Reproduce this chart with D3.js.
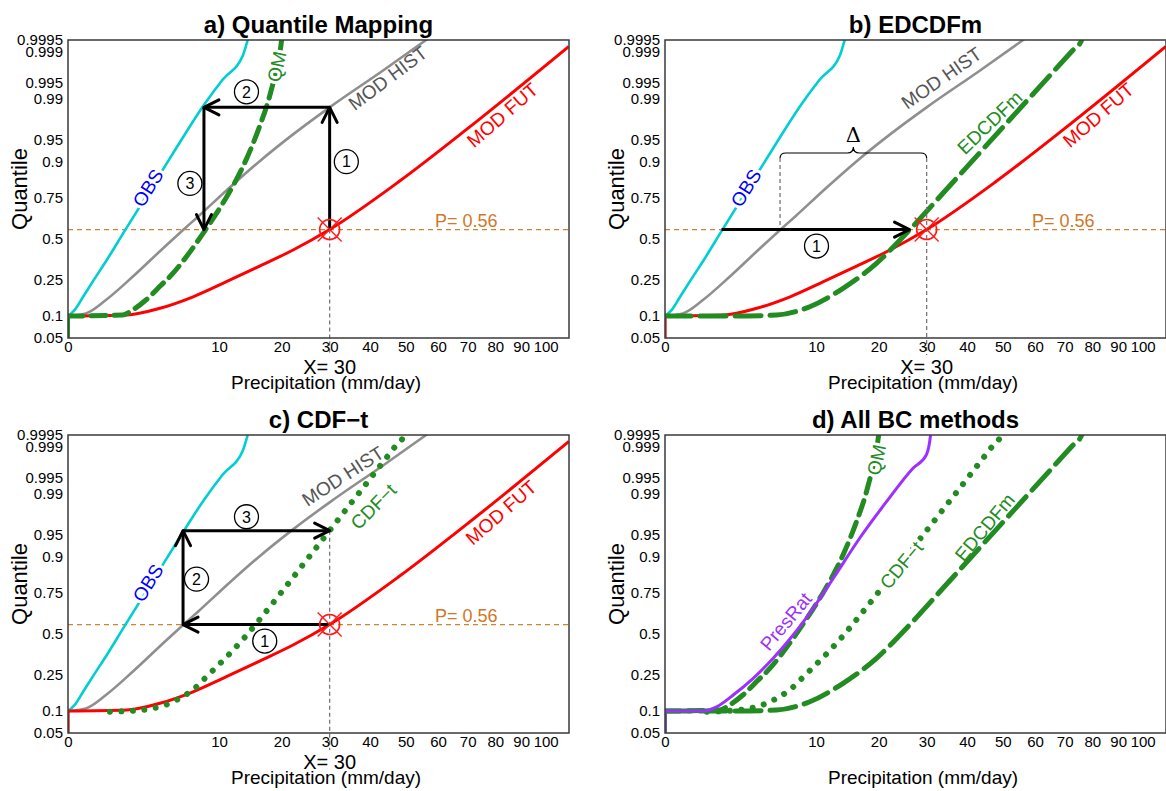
<!DOCTYPE html>
<html>
<head>
<meta charset="utf-8">
<script src="https://cdn.jsdelivr.net/npm/d3@7"></script>
<style>
  body { margin: 0; background: #fff; }
  svg { display: block; font-family: "Liberation Sans", Arial, sans-serif; }
</style>
</head>
<body>
<svg id="chart" width="1166" height="791"></svg>
<script>

// ---- data: [precipitation (mm/day), quantile] ----
var obsQ = [[0,0.05],[0,0.1],[0.02,0.119],[0.10,0.168],[0.30,0.25],[0.66,0.362],[1.4,0.55],[2.2,0.6935],
    [3.7,0.8566],[5.17,0.9346],[8.2,0.9873],[10.5,0.9958],[13.4,0.9988],[14.5,0.9997]];
var histQ = [[0,0.05],[0,0.1],[0.14,0.108],[0.63,0.155],[1.83,0.264],[4.1,0.447],[5.8,0.557],[7.4,0.642],
    [11.5,0.803],[16.1,0.9004],[22.2,0.958],[30,0.9852],[43.4,0.9973],[56.2,0.9995],[60,0.9997]];
var futQ = [[0,0.05],[0,0.1],[1.5,0.103],[3.7,0.1245],[6.86,0.168],[11.0,0.238],[16.1,0.3253],[22.2,0.4254],
    [30,0.56],[48.2,0.83],[69.5,0.9645],[109.9,0.99927]];
var qmQ = [[0,0.05],[0,0.1],[1.3,0.103],[1.83,0.119],[2.66,0.155],[3.7,0.215],[4.9,0.288],[6.1,0.3794],
    [8.3,0.56],[10.9,0.7473],[12.9,0.8599],[14.0,0.9083],[16.1,0.9688],[17.8,0.99074],[19.0,0.99744],[20.0,0.9995],[20.3,0.9998]];
var edcdfmQ = [[0,0.1],[2.0,0.1],[5.45,0.103],[9.19,0.130],[13.9,0.2056],[19.6,0.342],[26.2,0.557],
    [34.3,0.7839],[43.4,0.9226],[52.0,0.9753],[62.6,0.9950],[72.9,0.9991],[75.9,0.99946],[77,0.9997]];
var cdftQ = [[0.77,0.098],[2.71,0.105],[5.17,0.136],[7.09,0.185],[8.41,0.238],[11.95,0.3926],[13.74,0.4785],
    [16.11,0.5938],[20.9,0.7853],[24.9,0.8877],[30,0.9562],[33.1,0.9766],[36.8,0.9894],[40.3,0.9952],
    [43.5,0.99776],[46.7,0.99898],[49.5,0.9995],[50,0.9997]];
var presratQ = [[0,0.05],[0,0.1],[0.64,0.1],[1.17,0.113],[2.04,0.155],[3.41,0.230],[5.13,0.342],[7.2,0.491],
    [9.61,0.663],[12.4,0.82],[16.6,0.943],[21.5,0.9856],[26.9,0.9969],[29.9,0.99845],[30.9,0.9995],[31.1,0.9998]];

var xTicks = [0,10,20,30,40,50,60,70,80,90,100];
var yTicks = [0.05,0.1,0.25,0.5,0.75,0.9,0.95,0.99,0.995,0.999,0.9995];

var P_REF = 0.56, X_REF = 30;

// arrows [from, to] and circled step numbers
var arrowsA = [[[30,0.56],[30,0.9852]], [[30,0.9852],[8.1,0.9852]], [[8.1,0.9852],[8.1,0.56]]];
var arrowsB = [[[1.4,0.56],[26.2,0.56]]];
var arrowsC = [[[30,0.56],[5.8,0.56]], [[5.8,0.56],[5.8,0.956]], [[5.8,0.956],[30,0.956]]];
var stepsA = [[1,33.95,0.899],[2,13.96,0.9925],[3,6.51,0.82]];
var stepsB = [[1,10.06,0.4515]];
var stepsC = [[1,16.96,0.4515],[2,7.24,0.817],[3,13.96,0.9736]];

// curve labels: text, x, quantile, angle, series
var labelsA = [['OBS',2.8,0.80,-58,'obs'],['MOD HIST',44.8,0.9961,-37,'hist'],['MOD FUT',82.7,0.9797,-41,'fut'],['QM',19.1,0.9978,-78,'qm']];
var labelsB = [['OBS',2.87,0.80,-58,'obs'],['MOD HIST',33.5,0.9961,-35,'hist'],['EDCDFm',46.2,0.9728,-44,'edcdfm'],['MOD FUT',82.3,0.9797,-41,'fut']];
var labelsC = [['OBS',2.8,0.80,-58,'obs'],['MOD HIST',33.1,0.99547,-33,'hist'],['CDF\u2212t',40.9,0.9825,-45,'cdft'],['MOD FUT',82.2,0.9776,-41,'fut']];
var labelsD = [['PresRat',6.4,0.58,-50,'presrat'],['QM',19.6,0.998,-78,'qm'],['CDF\u2212t',24.5,0.872,-50,'cdft'],['EDCDFm',44.8,0.961,-50,'edcdfm']];

var styles = {
  obs:     {color:'#00ced1', width:2.6, dash:null, text:'#0000ff', halo:true},
  hist:    {color:'#8f8f8f', width:2.6, dash:null, text:'#555555'},
  fut:     {color:'#ff0000', width:3, dash:null, text:'#ff0000'},
  qm:      {color:'#228b22', width:5, dash:'15 8', text:'#228b22', halo:true},
  edcdfm:  {color:'#228b22', width:5, dash:'26 9', text:'#228b22'},
  cdft:    {color:'#228b22', width:6, dash:'0.01 11.5', text:'#228b22'},
  presrat: {color:'#9b30ff', width:3, dash:null, text:'#9b30ff'}
};
var seriesData = {obs:obsQ, hist:histQ, fut:futQ, qm:qmQ, edcdfm:edcdfmQ, cdft:cdftQ, presrat:presratQ};

var panels = [
  {title:'a) Quantile Mapping', left:68,  top:40,  curves:['obs','hist','fut','qm'], arrows:arrowsA, steps:stepsA, labels:labelsA, ref:true},
  {title:'b) EDCDFm',           left:665, top:40,  curves:['obs','hist','fut','edcdfm'], arrows:arrowsB, steps:stepsB, labels:labelsB, ref:true, brace:[5.8,30,0.922]},
  {title:'c) CDF\u2212t',       left:68,  top:435, curves:['obs','hist','fut','cdft'], arrows:arrowsC, steps:stepsC, labels:labelsC, ref:true, vfrom:0.956},
  {title:'d) All BC methods',   left:665, top:435, curves:['qm','cdft','edcdfm','presrat'], arrows:[], steps:[], labels:labelsD, ref:false}
];
var W = 501, H = 298;

// inverse normal CDF (Acklam)
function qnorm(p) {
  var a = [-3.969683028665376e+01, 2.209460984245205e+02, -2.759285104469687e+02, 1.383577518672690e+02, -3.066479806614716e+01, 2.506628277459239e+00];
  var b = [-5.447609879822406e+01, 1.615858368580409e+02, -1.556989798598866e+02, 6.680131188771972e+01, -1.328068155288572e+01];
  var c = [-7.784894002430293e-03, -3.223964580411365e-01, -2.400758277161838e+00, -2.549732539343734e+00, 4.374664141464968e+00, 2.938163982698783e+00];
  var d = [7.784695709041462e-03, 3.224671290700398e-01, 2.445134137142996e+00, 3.754408661907416e+00];
  var pl = 0.02425, q, r;
  if (p < pl) {
    q = Math.sqrt(-2 * Math.log(p));
    return (((((c[0]*q+c[1])*q+c[2])*q+c[3])*q+c[4])*q+c[5]) / ((((d[0]*q+d[1])*q+d[2])*q+d[3])*q+1);
  }
  if (p > 1 - pl) {
    q = Math.sqrt(-2 * Math.log(1 - p));
    return -(((((c[0]*q+c[1])*q+c[2])*q+c[3])*q+c[4])*q+c[5]) / ((((d[0]*q+d[1])*q+d[2])*q+d[3])*q+1);
  }
  q = p - 0.5; r = q * q;
  return (((((a[0]*r+a[1])*r+a[2])*r+a[3])*r+a[4])*r+a[5])*q / (((((b[0]*r+b[1])*r+b[2])*r+b[3])*r+b[4])*r+1);
}

var svg = d3.select('#chart');
var defs = svg.append('defs');

function drawArrow(g, a, b) {
  g.append('line')
    .attr('x1', a[0]).attr('y1', a[1]).attr('x2', b[0]).attr('y2', b[1])
    .attr('stroke', 'black').attr('stroke-width', 3);
  var ang = Math.atan2(b[1] - a[1], b[0] - a[0]);
  var L = 15, hw = 7.5;
  var bx = b[0] - L * Math.cos(ang), by = b[1] - L * Math.sin(ang);
  var nx = -Math.sin(ang), ny = Math.cos(ang);
  g.append('path')
    .attr('d', 'M' + (bx + hw*nx) + ',' + (by + hw*ny) + 'L' + b[0] + ',' + b[1] + 'L' + (bx - hw*nx) + ',' + (by - hw*ny))
    .attr('fill', 'none').attr('stroke', 'black').attr('stroke-width', 3)
    .attr('stroke-linejoin', 'round').attr('stroke-linecap', 'round');
}

panels.forEach(function(pn, idx) {
  var x = d3.scaleSqrt().domain([0, 110]).range([pn.left, pn.left + W]);
  var y = d3.scaleLinear().domain([qnorm(0.05), qnorm(0.9995)]).range([pn.top + H, pn.top]);
  var yq = function(p) { return y(qnorm(p)); };
  var bottom = pn.top + H;

  defs.append('clipPath').attr('id', 'clip' + idx)
    .append('rect').attr('x', pn.left).attr('y', pn.top).attr('width', W).attr('height', H);

  var g = svg.append('g');
  var plot = g.append('g').attr('clip-path', 'url(#clip' + idx + ')');

  // reference quantile line
  if (pn.ref) {
    plot.append('line')
      .attr('x1', x(0)).attr('x2', x(110)).attr('y1', yq(P_REF)).attr('y2', yq(P_REF))
      .attr('stroke', '#d0822e').attr('stroke-width', 1.3).attr('stroke-dasharray', '5,4');
  }

  // curves
  var line = d3.line().x(function(d) { return x(d[0]); }).y(function(d) { return yq(d[1]); });
  pn.curves.forEach(function(key) {
    var s = styles[key], pts = seriesData[key], rest = pts;
    if (pts.length > 1 && pts[0][0] === pts[1][0]) {
      plot.append('path').attr('d', line.curve(d3.curveLinear)(pts.slice(0, 2)))
        .attr('fill', 'none').attr('stroke', s.color).attr('stroke-width', Math.min(s.width, 4));
      rest = pts.slice(1);
    }
    plot.append('path').attr('d', line.curve(d3.curveMonotoneX)(rest))
      .attr('fill', 'none').attr('stroke', s.color).attr('stroke-width', s.width)
      .attr('stroke-dasharray', s.dash).attr('stroke-linecap', s.dash ? 'round' : 'butt')
      .attr('stroke-linejoin', 'round');
  });

  // dashed guide lines at X = 30
  if (pn.ref) {
    var top30 = pn.vfrom ? yq(pn.vfrom) : yq(P_REF);
    if (pn.brace) top30 = yq(pn.brace[2]) + 5;
    g.append('line').attr('x1', x(X_REF)).attr('x2', x(X_REF)).attr('y1', top30).attr('y2', bottom + 17)
      .attr('stroke', '#777').attr('stroke-width', 1.3).attr('stroke-dasharray', '4,3');
  }
  if (pn.brace) {
    var x1 = x(pn.brace[0]), x2 = x(pn.brace[1]), yb = yq(pn.brace[2]), xm = (x1 + x2) / 2;
    g.append('line').attr('x1', x1).attr('x2', x1).attr('y1', yb + 5).attr('y2', yq(P_REF))
      .attr('stroke', '#777').attr('stroke-width', 1.3).attr('stroke-dasharray', '4,3');
    g.append('path')
      .attr('d', 'M' + x1 + ',' + (yb + 5) + 'Q' + x1 + ',' + yb + ' ' + (x1 + 6) + ',' + yb +
                 'L' + (xm - 6) + ',' + yb + 'Q' + xm + ',' + yb + ' ' + xm + ',' + (yb - 6) +
                 'Q' + xm + ',' + yb + ' ' + (xm + 6) + ',' + yb +
                 'L' + (x2 - 6) + ',' + yb + 'Q' + x2 + ',' + yb + ' ' + x2 + ',' + (yb + 5))
      .attr('fill', 'none').attr('stroke', 'black').attr('stroke-width', 1.2);
    g.append('text').attr('x', xm).attr('y', yb - 11)
      .attr('text-anchor', 'middle').style('font-family', '"DejaVu Serif", "Liberation Serif", serif')
      .style('font-size', '21px').text('\u0394');
  }

  // arrows
  pn.arrows.forEach(function(ar) {
    drawArrow(g, [x(ar[0][0]), yq(ar[0][1])], [x(ar[1][0]), yq(ar[1][1])]);
  });

  // red target marker
  if (pn.ref) {
    var cx = x(X_REF), cy = yq(P_REF);
    g.append('circle').attr('cx', cx).attr('cy', cy).attr('r', 10)
      .attr('fill', 'none').attr('stroke', '#ff1a1a').attr('stroke-width', 1.6);
    [[-1, -1], [1, -1]].forEach(function(dd) {
      g.append('line').attr('x1', cx + dd[0]*12).attr('y1', cy + dd[1]*12)
        .attr('x2', cx - dd[0]*12).attr('y2', cy - dd[1]*12)
        .attr('stroke', '#ff1a1a').attr('stroke-width', 1.3);
    });
    g.append('text').attr('x', x(59)).attr('y', yq(P_REF) - 3)
      .attr('fill', '#d0782a').style('font-size', '18px').text('P= 0.56');
    g.append('text').attr('x', x(X_REF)).attr('y', bottom + 36)
      .attr('text-anchor', 'middle').style('font-size', '20px').text('X= 30');
  }

  // step numbers
  pn.steps.forEach(function(st) {
    var sx = x(st[1]), sy = yq(st[2]);
    g.append('circle').attr('cx', sx).attr('cy', sy).attr('r', 12)
      .attr('fill', 'white').attr('stroke', 'black').attr('stroke-width', 1.3);
    g.append('text').attr('x', sx).attr('y', sy).attr('dy', '0.36em')
      .attr('text-anchor', 'middle').style('font-size', '16px').text(st[0]);
  });

  // curve labels
  pn.labels.forEach(function(lb) {
    var s = styles[lb[4]];
    var t = g.append('text')
      .attr('transform', 'translate(' + x(lb[1]) + ',' + yq(lb[2]) + ') rotate(' + lb[3] + ')')
      .attr('text-anchor', 'middle').attr('dy', '0.35em')
      .attr('fill', s.text).style('font-size', '19px').text(lb[0]);
    if (s.halo || (pn.title.charAt(0) === 'd' && lb[4] === 'cdft')) {
      t.attr('stroke', 'white').attr('stroke-width', 6).attr('paint-order', 'stroke');
    }
  });

  // frame
  g.append('rect').attr('x', pn.left).attr('y', pn.top).attr('width', W).attr('height', H)
    .attr('fill', 'none').attr('stroke', '#3a3a3a').attr('stroke-width', 1.5);

  // axes
  var xAxis = g.append('g').attr('transform', 'translate(0,' + bottom + ')')
    .call(d3.axisBottom(x).tickValues(xTicks).tickSize(0).tickPadding(3));
  var yAxis = g.append('g').attr('transform', 'translate(' + pn.left + ',0)')
    .call(d3.axisLeft(y).tickValues(yTicks.map(qnorm)).tickSize(0).tickPadding(5)
      .tickFormat(function(d, i) { return String(yTicks[i]); }));
  [xAxis, yAxis].forEach(function(ax) {
    ax.select('.domain').remove();
    ax.attr('font-family', null).attr('font-size', null);
    ax.selectAll('text').style('font-size', '15px').attr('fill', 'black');
  });

  // titles
  g.append('text').attr('x', pn.left + W / 2).attr('y', pn.top - 7)
    .attr('text-anchor', 'middle').style('font-size', '24px').style('font-weight', 'bold').text(pn.title);
  g.append('text').attr('x', pn.left + 258).attr('y', bottom + 51)
    .attr('text-anchor', 'middle').style('font-size', '19px').text('Precipitation (mm/day)');
  g.append('text').attr('transform', 'translate(' + (pn.left - 41) + ',' + (pn.top + H / 2) + ') rotate(-90)')
    .attr('text-anchor', 'middle').style('font-size', '22px').text('Quantile');
});

</script>
</body>
</html>
